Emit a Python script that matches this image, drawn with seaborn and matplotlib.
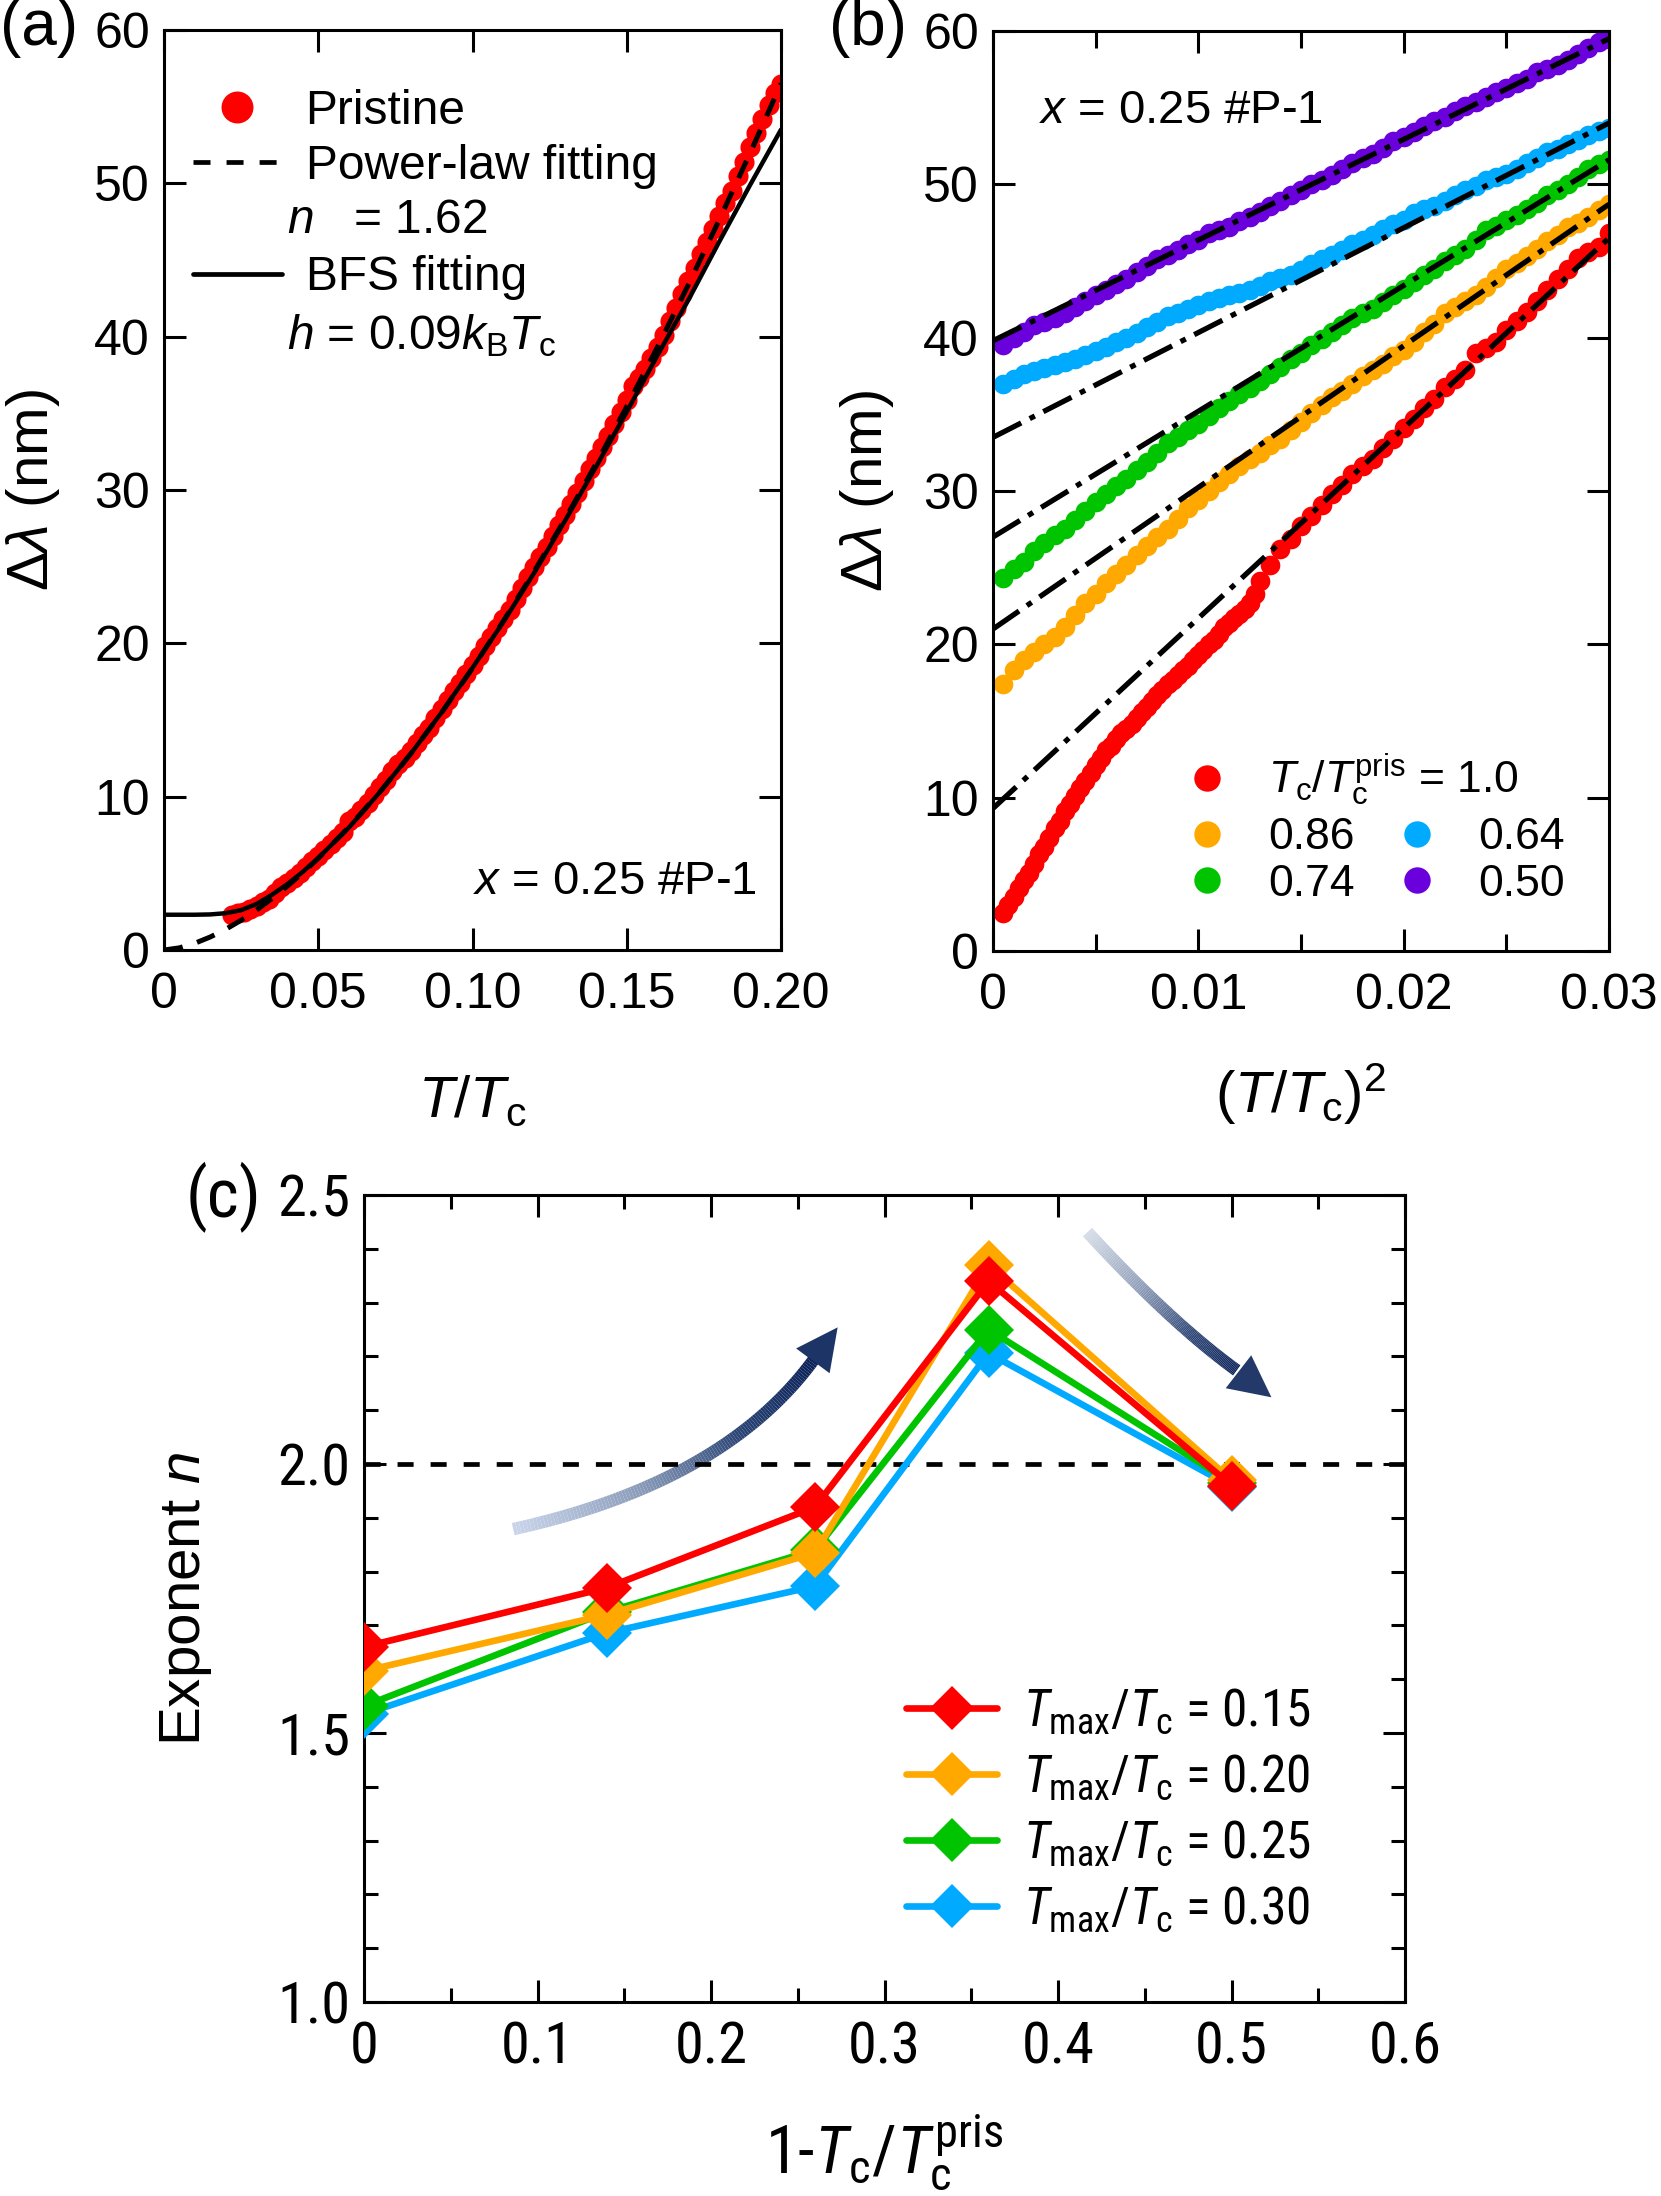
import numpy as np
import pandas as pd
import matplotlib
matplotlib.use("Agg")
import matplotlib.pyplot as plt
import seaborn as sns
from matplotlib.lines import Line2D
from matplotlib.collections import LineCollection
from matplotlib.colors import LinearSegmentedColormap
from matplotlib import font_manager
from matplotlib.font_manager import FontProperties

# ---------------- data : panel (a) ----------------
t_pris = [0.022, 0.024, 0.026, 0.028, 0.030, 0.032, 0.034, 0.036, 0.038, 0.040,
          0.042, 0.044, 0.046, 0.048, 0.050, 0.052, 0.054, 0.056, 0.058, 0.060,
          0.062, 0.064, 0.066, 0.068, 0.070, 0.072, 0.074, 0.076, 0.078, 0.080,
          0.082, 0.084, 0.086, 0.088, 0.090, 0.092, 0.094, 0.096, 0.098, 0.100,
          0.102, 0.104, 0.106, 0.108, 0.110, 0.112, 0.114, 0.116, 0.118, 0.120,
          0.122, 0.124, 0.126, 0.128, 0.130, 0.132, 0.134, 0.136, 0.138, 0.140,
          0.142, 0.144, 0.146, 0.148, 0.150, 0.152, 0.154, 0.156, 0.158, 0.160,
          0.162, 0.164, 0.166, 0.168, 0.170, 0.172, 0.174, 0.176, 0.178, 0.180,
          0.182, 0.184, 0.186, 0.188, 0.190, 0.192, 0.194, 0.196, 0.198, 0.200]
dl_pris = [2.3, 2.4, 2.5, 2.7, 2.9, 3.1, 3.3, 3.7, 4.1, 4.4,
           4.7, 5.0, 5.4, 5.8, 6.1, 6.5, 6.9, 7.3, 7.7, 8.4,
           8.7, 9.1, 9.6, 10.1, 10.6, 11.1, 11.7, 12.1, 12.5, 13.0,
           13.5, 14.0, 14.5, 15.1, 15.7, 16.3, 16.9, 17.4, 18.0, 18.6,
           19.2, 19.8, 20.4, 21.0, 21.6, 22.2, 22.9, 23.6, 24.3, 25.0,
           25.6, 26.3, 27.0, 27.7, 28.4, 29.1, 29.8, 30.6, 31.4, 32.1,
           32.8, 33.5, 34.3, 35.1, 35.9, 36.8, 37.3, 37.9, 38.6, 39.3,
           40.1, 41.0, 41.9, 42.8, 43.6, 44.5, 45.4, 46.2, 47.0, 47.9,
           48.7, 49.5, 50.5, 51.4, 52.4, 53.3, 54.2, 55.1, 55.9, 56.5]
t_fit = [0.0, 0.005, 0.010, 0.015, 0.020, 0.025, 0.030, 0.035, 0.040, 0.045, 0.050,
         0.06, 0.07, 0.08, 0.09, 0.10, 0.11, 0.12, 0.13, 0.14, 0.15, 0.16, 0.17,
         0.18, 0.19, 0.20]
dl_power = [0.0, 0.14, 0.44, 0.85, 1.35, 1.94, 2.61, 3.36, 4.17, 5.04, 5.98,
            8.03, 10.31, 12.80, 15.49, 18.38, 21.45, 24.69, 28.11, 31.69, 35.44,
            39.34, 43.40, 47.63, 51.98, 56.5]
dl_bfs = [2.3, 2.3, 2.3, 2.32, 2.4, 2.6, 3.0, 3.6, 4.3, 5.1, 6.0,
          8.0, 10.3, 12.8, 15.5, 18.4, 21.4, 24.6, 28.0, 31.5, 35.1,
          38.8, 42.4, 46.2, 49.9, 53.5]

# ---------------- data : panel (b) ----------------
x_red = [0.0005, 0.00075, 0.0010, 0.00125, 0.0015, 0.00175, 0.0020, 0.00225, 0.0025, 0.00275,
         0.0030, 0.00325, 0.0035, 0.00375, 0.0040, 0.00425, 0.0045, 0.00475, 0.0050, 0.00525,
         0.0055, 0.00575, 0.0060, 0.00625, 0.0065, 0.00675, 0.0070, 0.00725, 0.0075, 0.00775,
         0.0080, 0.00825, 0.0085, 0.00875, 0.0090, 0.00925, 0.0095, 0.00975, 0.0100, 0.01025,
         0.0105, 0.01075, 0.0110, 0.01125, 0.0115, 0.01175, 0.0120, 0.01225, 0.0125, 0.01275,
         0.0130, 0.0135, 0.0140, 0.0145, 0.0150, 0.0155, 0.0160, 0.0165, 0.0170, 0.0175,
         0.0180, 0.0185, 0.0190, 0.0195, 0.0200, 0.0205, 0.0210, 0.0215, 0.0220, 0.0225,
         0.0230, 0.0235, 0.0240, 0.0245, 0.0250, 0.0255, 0.0260, 0.0265, 0.0270, 0.0275,
         0.0280, 0.0285, 0.0290, 0.0295, 0.0300]
dl_100 = [2.5, 3.0, 3.5, 4.1, 4.6, 5.1, 5.7, 6.3, 6.8, 7.4,
          8.0, 8.5, 9.1, 9.6, 10.1, 10.6, 11.1, 11.6, 12.1, 12.6,
          13.1, 13.4, 13.8, 14.2, 14.5, 14.8, 15.2, 15.6, 15.9, 16.3,
          16.7, 17.0, 17.4, 17.7, 18.0, 18.3, 18.6, 19.0, 19.3, 19.6,
          20.0, 20.3, 20.7, 21.1, 21.4, 21.7, 22.0, 22.3, 22.7, 23.3,
          24.1, 25.2, 26.2, 26.9, 27.7, 28.4, 29.1, 29.8, 30.4, 31.1,
          31.6, 32.1, 32.8, 33.4, 34.1, 34.7, 35.4, 36.0, 36.8, 37.3,
          37.9, 39.0, 39.3, 39.7, 40.5, 41.1, 41.7, 42.4, 43.1, 43.8,
          44.5, 45.2, 45.6, 45.9, 46.8]
x_b = [0.0005, 0.0010, 0.0015, 0.0020, 0.0025, 0.0030, 0.0035, 0.0040, 0.0045, 0.0050,
       0.0055, 0.0060, 0.0065, 0.0070, 0.0075, 0.0080, 0.0085, 0.0090, 0.0095, 0.0100,
       0.0105, 0.0110, 0.0115, 0.0120, 0.0125, 0.0130, 0.0135, 0.0140, 0.0145, 0.0150,
       0.0155, 0.0160, 0.0165, 0.0170, 0.0175, 0.0180, 0.0185, 0.0190, 0.0195, 0.0200,
       0.0205, 0.0210, 0.0215, 0.0220, 0.0225, 0.0230, 0.0235, 0.0240, 0.0245, 0.0250,
       0.0255, 0.0260, 0.0265, 0.0270, 0.0275, 0.0280, 0.0285, 0.0290, 0.0295, 0.0300]
dl_086 = [17.4, 18.3, 19.0, 19.5, 20.0, 20.5, 21.1, 21.9, 22.7, 23.3,
          24.0, 24.6, 25.2, 25.8, 26.4, 27.0, 27.5, 28.2, 28.9, 29.4,
          30.0, 30.6, 31.1, 31.6, 32.1, 32.5, 33.0, 33.4, 34.0, 34.5,
          35.1, 35.6, 36.1, 36.5, 37.0, 37.5, 37.9, 38.3, 38.8, 39.2,
          39.7, 40.4, 40.9, 41.6, 42.0, 42.4, 42.8, 43.3, 43.9, 44.5,
          44.9, 45.3, 45.8, 46.3, 46.7, 47.2, 47.5, 47.9, 48.3, 48.7]
dl_074 = [24.3, 24.9, 25.4, 26.1, 26.6, 27.1, 27.5, 28.1, 28.7, 29.3,
          29.8, 30.3, 30.8, 31.4, 31.9, 32.5, 33.1, 33.5, 34.0, 34.4,
          34.9, 35.4, 35.9, 36.3, 36.7, 37.2, 37.6, 38.1, 38.6, 39.0,
          39.5, 39.9, 40.4, 40.8, 41.3, 41.6, 41.9, 42.3, 42.8, 43.2,
          43.6, 44.1, 44.5, 45.0, 45.4, 45.8, 46.4, 47.0, 47.3, 47.7,
          48.0, 48.4, 48.8, 49.3, 49.6, 50.0, 50.5, 51.0, 51.3, 51.6]
dl_064 = [37.0, 37.3, 37.6, 37.8, 38.0, 38.2, 38.4, 38.6, 38.9, 39.1,
          39.4, 39.7, 40.0, 40.3, 40.7, 41.0, 41.4, 41.6, 41.9, 42.1,
          42.4, 42.6, 42.8, 42.9, 43.1, 43.4, 43.7, 43.9, 44.1, 44.4,
          44.8, 45.1, 45.4, 45.7, 46.1, 46.4, 46.7, 47.1, 47.4, 47.7,
          48.1, 48.4, 48.6, 48.9, 49.3, 49.6, 49.9, 50.3, 50.5, 50.7,
          51.0, 51.4, 51.7, 52.1, 52.3, 52.6, 52.9, 53.2, 53.5, 53.7]
dl_050 = [39.5, 40.0, 40.4, 40.8, 41.0, 41.3, 41.6, 42.0, 42.4, 42.8,
          43.1, 43.5, 43.8, 44.3, 44.7, 45.1, 45.4, 45.7, 46.1, 46.4,
          46.8, 47.0, 47.2, 47.6, 47.9, 48.2, 48.6, 48.9, 49.3, 49.6,
          50.0, 50.3, 50.6, 51.0, 51.4, 51.7, 52.0, 52.4, 52.8, 53.1,
          53.4, 53.8, 54.1, 54.4, 54.8, 55.1, 55.4, 55.7, 56.0, 56.3,
          56.6, 56.9, 57.3, 57.5, 57.8, 58.1, 58.5, 58.9, 59.3, 59.5]
tc_ratio_labels = ["1.0", "0.86", "0.74", "0.64", "0.50"]
fit_b_x = [0.0, 0.03]
fit_b_start = [9.3, 21.0, 27.0, 33.5, 39.8]
fit_b_end = [46.5, 48.7, 51.6, 54.0, 59.5]

# ---------------- data : panel (c) ----------------
x_c = [0.0, 0.14, 0.26, 0.36, 0.50]
n_015 = [1.66, 1.77, 1.92, 2.34, 1.96]
n_020 = [1.615, 1.72, 1.835, 2.37, 1.97]
n_025 = [1.55, 1.725, 1.84, 2.25, 1.965]
n_030 = [1.535, 1.686, 1.773, 2.206, 1.958]
tmax_labels = ["0.15", "0.20", "0.25", "0.30"]
# decorative arrows: start, control, shaft end, tip (data coords)
arrow_up = [(0.086, 1.879), (0.207, 1.965), (0.259, 2.193), (0.273, 2.254)]
arrow_down = [(0.417, 2.431), (0.465, 2.263), (0.503, 2.174), (0.523, 2.124)]

# ---------------- style ----------------
sns.set_style("ticks")
REG = ["Liberation Sans", "DejaVu Sans"]
plt.rcParams["font.family"] = REG
plt.rcParams["mathtext.fontset"] = "custom"
plt.rcParams["mathtext.rm"] = "Liberation Sans"
plt.rcParams["mathtext.it"] = "Liberation Sans:italic"
plt.rcParams["mathtext.bf"] = "Liberation Sans:bold"
plt.rcParams["axes.edgecolor"] = "black"
plt.rcParams["axes.linewidth"] = 2.2
plt.rcParams["xtick.color"] = "black"
plt.rcParams["ytick.color"] = "black"
plt.rcParams["text.color"] = "black"
plt.rcParams["axes.labelcolor"] = "black"

NARROW_NAME = None
for cand in ["Liberation Sans Narrow", "Arial Narrow", "Roboto Condensed",
             "Archivo Narrow", "PT Sans Narrow"]:
    try:
        font_manager.findfont(FontProperties(family=cand), fallback_to_default=False)
        NARROW_NAME = cand
        break
    except Exception:
        pass
NARROW = [NARROW_NAME, "DejaVu Sans"] if NARROW_NAME else REG

C_RED, C_ORA, C_GRN, C_BLU, C_PUR = "#FF0000", "#FFA800", "#00C400", "#00AAFF", "#6A00DC"

W, H = 1661, 2196
fig = plt.figure(figsize=(W / 100, H / 100), dpi=100)
ax_a = fig.add_axes([164 / W, 1 - 950 / H, (781 - 164) / W, 920 / H])
ax_b = fig.add_axes([993 / W, 1 - 951 / H, (1609 - 993) / W, 920 / H])
ax_c = fig.add_axes([364 / W, 1 - 2002 / H, (1405 - 364) / W, 807 / H])


def style_ticks(ax, size, family, major=16, minor=10, xpad=16):
    ax.tick_params(which="major", direction="in", length=major, width=2.2,
                   top=True, right=True, labelsize=size, pad=10,
                   labelfontfamily=family)
    ax.tick_params(which="minor", direction="in", length=minor, width=2.2,
                   top=True, right=True)
    ax.tick_params(axis="x", which="major", pad=xpad)
    for s in ax.spines.values():
        s.set_visible(True)
        s.set_linewidth(2.2)


# ---------------- panel (a) ----------------
sns.scatterplot(x=t_pris, y=dl_pris, color=C_RED, s=210, linewidth=0, ax=ax_a, zorder=2)
sns.lineplot(x=t_fit, y=dl_bfs, color="black", lw=3.2, ax=ax_a, sort=False,
             estimator=None, zorder=3)
sns.lineplot(x=t_fit, y=dl_power, color="black", lw=3.6, ax=ax_a, sort=False,
             estimator=None, zorder=4)
ax_a.lines[-1].set_linestyle((0, (3.8, 3.0)))
ax_a.set_xlim(0, 0.2)
ax_a.set_ylim(0, 60)
ax_a.set_xticks([0, 0.05, 0.10, 0.15, 0.20])
ax_a.set_xticklabels(["0", "0.05", "0.10", "0.15", "0.20"])
ax_a.set_yticks([0, 10, 20, 30, 40, 50, 60])
ax_a.set_yticklabels(["0", "10", "20", "30", "40", "50", "60"])
style_ticks(ax_a, 36, REG)
ax_a.set_xlabel(r"$T/T_\mathrm{c}$", fontsize=42)
ax_a.xaxis.set_label_coords(0.5, -0.135)
ax_a.set_ylabel(r"$\mathit{\Delta\lambda}$ (nm)", fontsize=42)
ax_a.yaxis.set_label_coords(-0.165, 0.5)
ax_a.text(0.961, 0.074, r"$x$ = 0.25 #P-1", transform=ax_a.transAxes,
          ha="right", va="center", fontsize=34)
h_a = [Line2D([], [], ls="none", marker="o", ms=23, color=C_RED, mew=0),
       Line2D([], [], ls=(0, (3.6, 3.4)), lw=3.4, color="black"),
       Line2D([], [], ls="none"),
       Line2D([], [], ls="-", lw=3.4, color="black"),
       Line2D([], [], ls="none")]
l_a = ["Pristine", "Power-law fitting", " ", "BFS fitting", " "]
ax_a.legend(h_a, l_a, loc="center left", bbox_to_anchor=(0.047, 0.791),
            frameon=False, fontsize=34.5, handlelength=1.85, handletextpad=0.5,
            labelspacing=0.22, borderpad=0, borderaxespad=0)
ax_a.text(0.1994, 0.793, r"$n$   = 1.62", transform=ax_a.transAxes,
          ha="left", va="center", fontsize=34.5)
ax_a.text(0.1994, 0.668, r"$h$ = 0.09$k_\mathrm{B}T_\mathrm{c}$", transform=ax_a.transAxes,
          ha="left", va="center", fontsize=34.5)

# ---------------- panel (b) ----------------
sns.scatterplot(x=x_red, y=dl_100, color=C_RED, s=200, linewidth=0, ax=ax_b, zorder=2)
for yv, col in zip([dl_086, dl_074, dl_064, dl_050], [C_ORA, C_GRN, C_BLU, C_PUR]):
    sns.scatterplot(x=x_b, y=yv, color=col, s=200, linewidth=0, ax=ax_b, zorder=2)
for y0, y1 in zip(fit_b_start, fit_b_end):
    sns.lineplot(x=fit_b_x, y=[y0, y1], color="black", lw=3.8, ax=ax_b,
                 sort=False, estimator=None, zorder=4)
    ax_b.lines[-1].set_linestyle((0, (6.0, 1.8, 1.1, 1.8)))
ax_b.set_xlim(0, 0.03)
ax_b.set_ylim(0, 60)
ax_b.set_xticks([0, 0.01, 0.02, 0.03])
ax_b.set_xticklabels(["0", "0.01", "0.02", "0.03"])
ax_b.set_xticks([0.005, 0.015, 0.025], minor=True)
ax_b.set_yticks([0, 10, 20, 30, 40, 50, 60])
ax_b.set_yticklabels(["0", "10", "20", "30", "40", "50", "60"])
style_ticks(ax_b, 36, REG, major=16, minor=12)
ax_b.set_xlabel(r"$(T/T_\mathrm{c})^2$", fontsize=42)
ax_b.xaxis.set_label_coords(0.5, -0.12)
ax_b.set_ylabel(r"$\mathit{\Delta\lambda}$ (nm)", fontsize=42)
ax_b.yaxis.set_label_coords(-0.157, 0.5)
ax_b.text(0.075, 0.913, r"$x$ = 0.25 #P-1", transform=ax_b.transAxes,
          ha="left", va="center", fontsize=34)
mk = lambda c: Line2D([], [], ls="none", marker="o", ms=19, color=c, mew=0)
leg1 = ax_b.legend([mk(C_RED)], [r"$T_\mathrm{c}/T_\mathrm{c}^\mathrm{pris}$ = " + tc_ratio_labels[0]],
                   loc="center left", bbox_to_anchor=(0.312, 0.186), frameon=False,
                   fontsize=32, handlelength=1.0, handletextpad=0.87,
                   borderpad=0, borderaxespad=0)
ax_b.add_artist(leg1)
ax_b.legend([mk(C_ORA), mk(C_GRN), mk(C_BLU), mk(C_PUR)],
            [tc_ratio_labels[1], tc_ratio_labels[2], tc_ratio_labels[3], tc_ratio_labels[4]],
            ncol=2, loc="center left", bbox_to_anchor=(0.312, 0.098), frameon=False,
            fontsize=32, handlelength=1.0, handletextpad=0.87, columnspacing=0.9,
            labelspacing=0.12, borderpad=0, borderaxespad=0)

# ---------------- panel (c) ----------------
ax_c.axhline(2.0, color="black", lw=3.4, ls=(0, (3.4, 3.6)), zorder=3)


def gradient_arrow(ax, pts, cmap, lw, head_color):
    p0, p1, p2, tip = [np.array(p) for p in pts]
    tt = np.linspace(0, 1, 120)[:, None]
    curve = (1 - tt) ** 2 * p0 + 2 * (1 - tt) * tt * p1 + tt ** 2 * p2
    segs = np.stack([curve[:-1], curve[1:]], axis=1)
    lc = LineCollection(segs, colors=cmap(np.linspace(0, 1, len(segs))),
                        linewidths=lw, capstyle="butt", zorder=2)
    ax.add_collection(lc)
    ax.annotate("", xy=tuple(tip), xytext=tuple(p2),
                arrowprops=dict(arrowstyle="-|>,head_length=1.5,head_width=0.75",
                                mutation_scale=20, lw=0, color=head_color,
                                shrinkA=0, shrinkB=0), zorder=2)


cm_up = LinearSegmentedColormap.from_list("up", ["#C9D4EA", "#8A9BB9", "#2A4474", "#0B2259"])
cm_dn = LinearSegmentedColormap.from_list("dn", ["#D5DCE7", "#8E9DB8", "#2E4676", "#0B2259"])
gradient_arrow(ax_c, arrow_up, cm_up, 9.0, "#1C3566")
gradient_arrow(ax_c, arrow_down, cm_dn, 9.0, "#22396A")

for yv, col in zip([n_030, n_025, n_020, n_015], [C_BLU, C_GRN, C_ORA, C_RED]):
    sns.lineplot(x=x_c, y=yv, color=col, lw=4.8, marker="D", markersize=25,
                 markeredgewidth=0, ax=ax_c, sort=False, estimator=None, zorder=5)
ax_c.set_xlim(0, 0.6)
ax_c.set_ylim(1.0, 2.5)
ax_c.set_xticks([0, 0.1, 0.2, 0.3, 0.4, 0.5, 0.6])
ax_c.set_xticklabels(["0", "0.1", "0.2", "0.3", "0.4", "0.5", "0.6"])
ax_c.set_xticks([0.05, 0.15, 0.25, 0.35, 0.45, 0.55], minor=True)
ax_c.set_yticks([1.0, 1.5, 2.0, 2.5])
ax_c.set_yticklabels(["1.0", "1.5", "2.0", "2.5"])
ax_c.set_yticks([1.1, 1.2, 1.3, 1.4, 1.6, 1.7, 1.8, 1.9, 2.1, 2.2, 2.3, 2.4], minor=True)
style_ticks(ax_c, 42, NARROW, major=16, minor=10, xpad=13)
ax_c.set_xlabel(r"1-$T_\mathrm{c}/T_\mathrm{c}^\mathrm{pris}$", fontsize=48, family=NARROW)
ax_c.xaxis.set_label_coords(0.5, -0.135)
ax_c.set_ylabel(r"Exponent $n$", fontsize=42)
ax_c.yaxis.set_label_coords(-0.144, 0.5)
h_c = [Line2D([], [], color=c, lw=4.8, marker="D", ms=22, mew=0)
       for c in [C_RED, C_ORA, C_GRN, C_BLU]]
l_c = [r"$T_\mathrm{max}/T_\mathrm{c}$ = " + v for v in tmax_labels]
ax_c.legend(h_c, l_c, loc="center left", bbox_to_anchor=(0.521, 0.237), frameon=False,
            prop=FontProperties(family=NARROW, size=37), handlelength=1.77,
            handletextpad=0.5, labelspacing=0.31, borderpad=0, borderaxespad=0)

# ---------------- panel labels ----------------
fig.text(0.0, 1 - 28 / H, "(a)", fontsize=46, ha="left", va="center")
fig.text(829 / W, 1 - 28 / H, "(b)", fontsize=46, ha="left", va="center")
fig.text(186 / W, 1 - 1197 / H, "(c)", fontsize=50, ha="left", va="center", family=NARROW)

# panel (c) uses a condensed face; pre-render its math texts with that face
if NARROW_NAME:
    renderer = fig.canvas.get_renderer()
    ylab = ax_c.yaxis.label
    ylab.set_visible(False)
    with plt.rc_context({"mathtext.rm": NARROW_NAME,
                         "mathtext.it": NARROW_NAME + ":italic",
                         "mathtext.bf": NARROW_NAME + ":bold"}):
        ax_c.draw(renderer)
    ylab.set_visible(True)

fig.savefig("out.png", dpi=100)
